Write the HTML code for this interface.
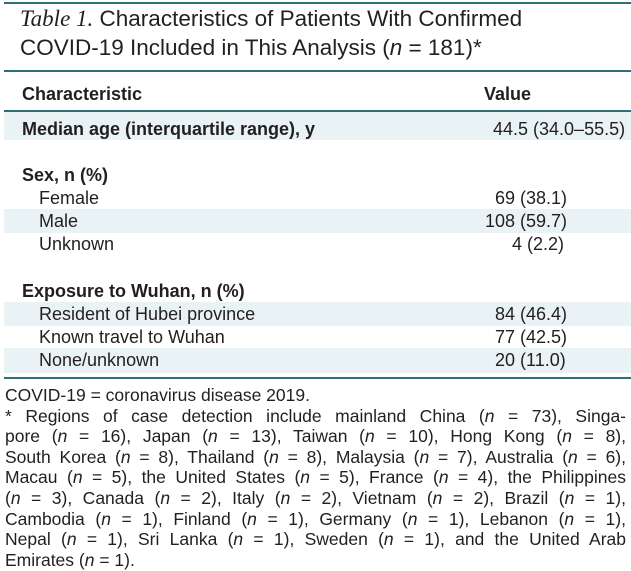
<!DOCTYPE html>
<html><head><meta charset="utf-8"><style>
body{margin:0;width:631px;height:571px;background:#fff;position:relative;overflow:hidden;font-family:"Liberation Sans",sans-serif;color:#231f20}
.a{position:absolute;white-space:nowrap;line-height:20px}
.hl{position:absolute;left:4px;width:627px;height:2px;background:#2f6f78}
.band{position:absolute;left:4px;width:627px;background:#e9f2f4}
.t{font-size:22.5px;left:20px;line-height:26px}
.b{font-weight:bold;font-size:18px;left:22px}
.r{font-size:18px;left:39px}
.v{font-size:18px}
.fn{position:relative;left:5px;width:621px;font-size:17.5px;line-height:20.6px;text-align:justify;text-align-last:justify;white-space:nowrap}
</style></head><body>
<div class="hl" style="top:2px"></div>
<div class="a t" style="top:6px"><i style="font-family:'Liberation Serif',serif;font-size:23px">Table 1.</i> Characteristics of Patients With Confirmed</div>
<div class="a t" style="top:35px">COVID-19 Included in This Analysis (<i>n</i> = 181)*</div>
<div class="hl" style="top:70px"></div>
<div class="a b" style="top:84px">Characteristic</div>
<div class="a b" style="top:84px;left:484px">Value</div>
<div class="hl" style="top:110px"></div>
<div class="band" style="top:112px;height:28px"></div>
<div class="a b" style="top:119px">Median age (interquartile range), y</div>
<div class="a v" style="top:119px;left:493px">44.5 (34.0–55.5)</div>
<div class="a b" style="top:165px">Sex, n (%)</div>
<div class="a r" style="top:188px">Female</div><div class="a v" style="top:188px;left:495px">69 (38.1)</div>
<div class="band" style="top:209px;height:24px"></div>
<div class="a r" style="top:211px">Male</div><div class="a v" style="top:211px;left:485px">108 (59.7)</div>
<div class="a r" style="top:234px">Unknown</div><div class="a v" style="top:234px;left:512px">4 (2.2)</div>
<div class="a b" style="top:281px">Exposure to Wuhan, n (%)</div>
<div class="band" style="top:302px;height:24px"></div>
<div class="a r" style="top:304px">Resident of Hubei province</div><div class="a v" style="top:304px;left:495px">84 (46.4)</div>
<div class="a r" style="top:327px">Known travel to Wuhan</div><div class="a v" style="top:327px;left:495px">77 (42.5)</div>
<div class="band" style="top:348px;height:25px"></div>
<div class="a r" style="top:350px">None/unknown</div><div class="a v" style="top:350px;left:495px">20 (11.0)</div>
<div class="hl" style="top:377px"></div>
<div style="position:absolute;top:385px;left:0;width:631px">
<div class="fn" style="text-align-last:left">COVID-19 = coronavirus disease 2019.</div>
<div class="fn">* Regions of case detection include mainland China (<i>n</i> = 73), Singa-</div>
<div class="fn">pore (<i>n</i> = 16), Japan (<i>n</i> = 13), Taiwan (<i>n</i> = 10), Hong Kong (<i>n</i> = 8),</div>
<div class="fn">South Korea (<i>n</i> = 8), Thailand (<i>n</i> = 8), Malaysia (<i>n</i> = 7), Australia (<i>n</i> = 6),</div>
<div class="fn">Macau (<i>n</i> = 5), the United States (<i>n</i> = 5), France (<i>n</i> = 4), the Philippines</div>
<div class="fn">(<i>n</i> = 3), Canada (<i>n</i> = 2), Italy (<i>n</i> = 2), Vietnam (<i>n</i> = 2), Brazil (<i>n</i> = 1),</div>
<div class="fn">Cambodia (<i>n</i> = 1), Finland (<i>n</i> = 1), Germany (<i>n</i> = 1), Lebanon (<i>n</i> = 1),</div>
<div class="fn">Nepal (<i>n</i> = 1), Sri Lanka (<i>n</i> = 1), Sweden (<i>n</i> = 1), and the United Arab</div>
<div class="fn" style="text-align-last:left">Emirates (<i>n</i> = 1).</div>
</div>
</body></html>
